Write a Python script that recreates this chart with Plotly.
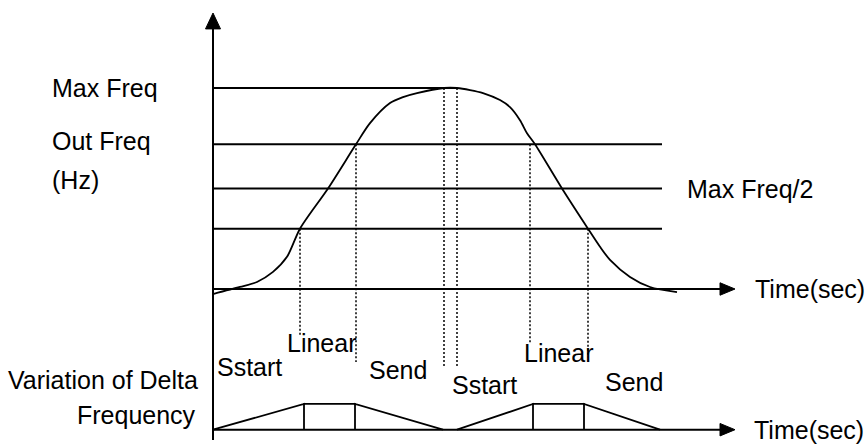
import plotly.graph_objects as go

# Output-frequency profile of an S-curve accel/decel (time units, % of max freq)
t_curve = [0, 27, 44, 60, 74, 87, 115, 143, 157, 177, 190, 204, 231, 244,
           257, 270, 287, 297, 307, 314, 322, 349, 375, 387, 397, 417, 437, 464]
f_curve = [-2.5, 1, 3.5, 8.5, 16, 30, 50, 72, 82.5, 92.5, 95.5, 97.5, 100, 100,
           99, 97.5, 94, 90.5, 84, 77.5, 72, 50, 30, 21, 14.5, 6, 1, -1.5]

# Reference frequency levels and where each level line ends
levels = [100, 72, 50, 30]
level_ends = [244, 449, 449, 449]

# Phase boundaries (time) with the level each marker drops from and its lower end
phase_t = [87, 143, 231, 244, 317, 375]
phase_top = [30, 72, 100, 100, 72, 30]
phase_bottom = [-23, -36.3, -39.3, -39.3, -27, -34]

# Delta-frequency profile (baseline / peak) for the accel and decel halves
delta_base, delta_peak = -70, -57.2
delta_t = [[0, 91, 91, 91, 142, 142, 142, 230],
           [244, 320, 320, 320, 371, 371, 371, 447]]
delta_f = [[delta_base, delta_peak, delta_base, delta_peak, delta_peak, delta_base, delta_peak, delta_base]] * 2

# Axis extents
t_axis_end, t_arrow_tip = 507, 522
f_axis_top, f_arrow_tip, f_axis_bottom = 129.4, 137.3, -75.1

labels_left = ["Max Freq", "Out Freq", "(Hz)"]
label_level = "Max Freq/2"
label_time = "Time(sec)"
phase_labels = ["Sstart", "Linear", "Send", "Sstart", "Linear", "Send"]
delta_labels = ["Variation of Delta", "Frequency"]

BLACK = "#000000"
FONT = dict(family="Liberation Sans, Arial, sans-serif", size=25, color=BLACK)

fig = go.Figure()

def line(x, y, width=2, dash=None, shape="linear"):
    fig.add_trace(go.Scatter(x=x, y=y, mode="lines", hoverinfo="skip",
                             line=dict(color=BLACK, width=width, dash=dash, shape=shape,
                                       smoothing=0.8 if shape == "spline" else None)))

def filled(x, y):
    fig.add_trace(go.Scatter(x=x, y=y, mode="lines", fill="toself", fillcolor=BLACK,
                             hoverinfo="skip", line=dict(color=BLACK, width=1)))

# vertical frequency axis with arrowhead
line([0, 0], [f_axis_bottom, f_axis_top])
filled([-7.5, 7.5, 0, -7.5], [f_axis_top, f_axis_top, f_arrow_tip, f_axis_top])

# two time axes with arrowheads
for base in (0, delta_base):
    line([0, t_axis_end], [base, base])
    filled([t_axis_end, t_axis_end, t_arrow_tip, t_axis_end],
           [base - 3.1, base + 3.1, base, base - 3.1])

# reference level lines
for lv, te in zip(levels, level_ends):
    line([0, te], [lv, lv])

# phase boundary markers
for t, top, bot in zip(phase_t, phase_top, phase_bottom):
    line([t, t], [top, bot], width=1.5, dash="2px,2px")

# output-frequency curve
line(t_curve, f_curve, width=1.8, shape="spline")

# delta-frequency trapezoids
for tx, fy in zip(delta_t, delta_f):
    line(tx, fy, width=1.8)

annotations = []

def label(text, x, y, anchor="left"):
    annotations.append(dict(text=text, x=x, y=y, xref="x", yref="y", showarrow=False,
                            xanchor=anchor, yanchor="middle", font=FONT))

for text, y in zip(labels_left, [100, 73.6, 54.2]):
    label(text, -163, y)
label(label_level, 472, 50)
label(label_time, 540, 0)
label(label_time, 539, delta_base)
for text, x, y in zip(phase_labels,
                      [2, 72, 154, 237, 309, 390],
                      [-38.8, -26.9, -40.3, -47.8, -31.8, -46.3]):
    label(text, x, y)
label(delta_labels[0], -13, -45.3, anchor="right")
label(delta_labels[1], -15, -62.7, anchor="right")

fig.update_layout(
    width=867, height=444,
    margin=dict(l=0, r=0, t=0, b=0),
    paper_bgcolor="white", plot_bgcolor="white",
    showlegend=False,
    xaxis=dict(range=[-213, 654], visible=False, fixedrange=True),
    yaxis=dict(range=[-77.114, 143.781], visible=False, fixedrange=True),
    annotations=annotations,
)

fig.write_html("out.html")
